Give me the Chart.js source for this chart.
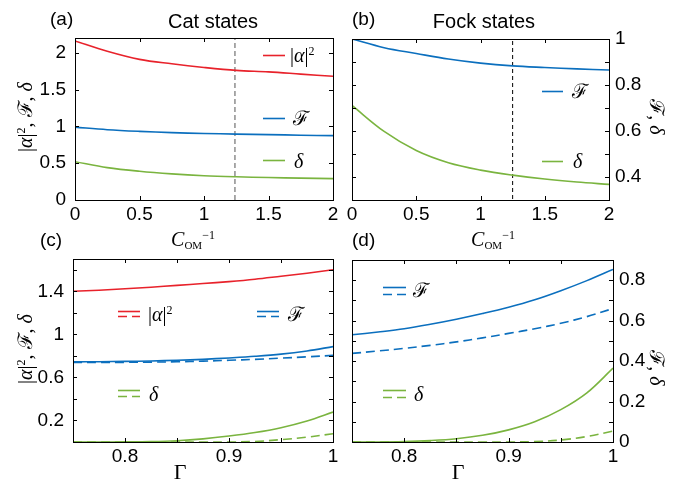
<!DOCTYPE html>
<html>
<head>
<meta charset="utf-8">
<script src="https://cdn.jsdelivr.net/npm/chart.js@4.4.0/dist/chart.umd.min.js"></script>
<style>
body{margin:0;background:#fff;}
#wrap{position:relative;width:681px;height:485px;overflow:hidden;}
canvas{position:absolute;left:0;top:0;}
.t{position:absolute;white-space:nowrap;font-family:"Liberation Sans",Arial,sans-serif;font-size:19px;color:#000;line-height:1;}
.ttl{font-size:20px;}
.m{font-family:"Liberation Serif","DejaVu Serif",serif;font-size:20px;}
.m sup{font-size:12px;vertical-align:0.6em;}
.m sub{font-size:11px;vertical-align:-0.25em;}
.c{transform:translate(-50%,-50%);}
.v{transform:translateY(-50%);}
.rl{transform:translate(-50%,-50%) rotate(-90deg);}
.rr{transform:translate(-50%,-50%) rotate(90deg);}
</style>
</head>
<body>
<div id="wrap">
<canvas id="pa" width="681" height="485"></canvas>
<canvas id="pb" width="681" height="485"></canvas>
<canvas id="pc" width="681" height="485"></canvas>
<canvas id="pd" width="681" height="485"></canvas>

<div class="t" style="left:50px;top:9px;">(a)</div>
<div class="t c ttl" style="left:213px;top:21px;">Cat states</div>
<div class="t" style="left:352px;top:9px;">(b)</div>
<div class="t c ttl" style="left:484px;top:21px;">Fock states</div>
<div class="t" style="left:40px;top:230px;">(c)</div>
<div class="t" style="left:352px;top:230px;">(d)</div>

<div class="t m c" style="left:193px;top:240px;"><i>C</i><sub>OM</sub><sup>−1</sup></div>
<div class="t m c" style="left:493px;top:240px;"><i>C</i><sub>OM</sub><sup>−1</sup></div>
<div class="t m c" style="left:180px;top:472px;font-size:22px;">Γ</div>
<div class="t m c" style="left:458px;top:472px;font-size:22px;">Γ</div>

<div class="t m rl" style="left:25px;top:117px;">|<i>α</i>|<sup>2</sup>, ℱ, <i>δ</i></div>
<div class="t m rl" style="left:25px;top:349px;">|<i>α</i>|<sup>2</sup>, ℱ, <i>δ</i></div>
<div class="t m rr" style="left:657px;top:117px;">ℱ, <i>δ</i></div>
<div class="t m rr" style="left:657px;top:368px;">ℱ, <i>δ</i></div>

<div class="t m v" style="left:290px;top:55px;">|<i>α</i>|<sup>2</sup></div>
<div class="t m v" style="left:293px;top:118px;">ℱ</div>
<div class="t m v" style="left:294px;top:161px;"><i>δ</i></div>
<div class="t m v" style="left:572px;top:91px;">ℱ</div>
<div class="t m v" style="left:573px;top:161px;"><i>δ</i></div>
<div class="t m v" style="left:148px;top:314px;">|<i>α</i>|<sup>2</sup></div>
<div class="t m v" style="left:288px;top:314px;">ℱ</div>
<div class="t m v" style="left:149px;top:394px;"><i>δ</i></div>
<div class="t m v" style="left:413px;top:290px;">ℱ</div>
<div class="t m v" style="left:414px;top:394px;"><i>δ</i></div>
</div>

<script>
// x values: inverse cooperativity, and Gamma
var cInv = [0, 0.25, 0.5, 0.75, 1, 1.25, 1.5, 1.75, 2];
var gamma = [0.75, 0.775, 0.8, 0.825, 0.85, 0.875, 0.9, 0.925, 0.95, 0.975, 1];

// (a) cat states vs C_OM^-1
var catAlpha = [2.16, 2.02, 1.91, 1.85, 1.80, 1.76, 1.74, 1.71, 1.68];
var catF = [0.99, 0.955, 0.932, 0.915, 0.903, 0.895, 0.888, 0.88, 0.874];
var catDelta = [0.52, 0.44, 0.39, 0.355, 0.33, 0.315, 0.305, 0.297, 0.29];
var cutCat = 1.24;

// (b) fock states vs C_OM^-1
var fockF = [1.0, 0.962, 0.937, 0.913, 0.895, 0.883, 0.876, 0.87, 0.865];
var fockDelta = [0.711, 0.598, 0.515, 0.462, 0.43, 0.408, 0.391, 0.378, 0.368];
var cutFock = 1.25;

// (c) cat states vs Gamma (solid / dashed)
var catAlphaG = [1.40, 1.41, 1.423, 1.438, 1.455, 1.472, 1.49, 1.512, 1.54, 1.568, 1.60];
var catFG = [0.744, 0.746, 0.749, 0.753, 0.759, 0.768, 0.781, 0.796, 0.816, 0.846, 0.886];
var catFGd = [0.738, 0.739, 0.74, 0.742, 0.745, 0.751, 0.759, 0.768, 0.779, 0.791, 0.805];
var catDeltaG = [0, 0, 0.001, 0.004, 0.012, 0.029, 0.055, 0.088, 0.133, 0.195, 0.278];
var catDeltaGd = [0, 0, 0, 0, 0, 0, 0, 0.005, 0.022, 0.045, 0.077];

// (d) fock states vs Gamma (solid / dashed)
var fockFG = [0.53, 0.544, 0.56, 0.582, 0.607, 0.635, 0.666, 0.703, 0.748, 0.798, 0.853];
var fockFGd = [0.438, 0.45, 0.463, 0.478, 0.495, 0.515, 0.537, 0.56, 0.587, 0.62, 0.66];
var fockDeltaG = [0, 0, 0.002, 0.007, 0.016, 0.033, 0.06, 0.1, 0.16, 0.243, 0.365];
var fockDeltaGd = [0, 0, 0, 0, 0, 0, 0, 0.002, 0.01, 0.027, 0.054];

var RED = '#E8222B', BLUE = '#0B6FBE', GREEN = '#7AB43F';
var DASH = [9, 5];
var W = 681, H = 485, AXW = 45, AXH = 30;

function pts(xs, ys) {
    return xs.map(function(x, i){ return {x: x, y: ys[i]}; });
}
function line(xs, ys, color, dashed) {
    return {
        data: pts(xs, ys),
        borderColor: color,
        borderWidth: 1.6,
        borderDash: dashed ? DASH : [],
        pointRadius: 0,
        tension: 0.35,
        fill: false
    };
}
function vline(x, top, color, dash) {
    return {
        data: [{x: x, y: 0}, {x: x, y: top}],
        borderColor: color,
        borderWidth: 1,
        borderDash: dash,
        pointRadius: 0,
        fill: false
    };
}
function fmt(v) {
    return String(parseFloat(v.toFixed(2)));
}

// box frame with inward ticks on all four sides
var boxTicks = {
    id: 'boxTicks',
    afterDatasetsDraw: function(chart) {
        var a = chart.chartArea, ctx = chart.ctx;
        var sx = chart.scales.x, sy = chart.scales.y;
        ctx.save();
        ctx.strokeStyle = '#000';
        ctx.lineWidth = 1;
        ctx.setLineDash([]);
        ctx.beginPath();
        sx.ticks.forEach(function(t){
            var p = Math.round(sx.getPixelForValue(t.value)) + 0.5;
            ctx.moveTo(p, a.bottom); ctx.lineTo(p, a.bottom - 4);
            ctx.moveTo(p, a.top); ctx.lineTo(p, a.top + 4);
        });
        sy.ticks.forEach(function(t){
            var p = Math.round(sy.getPixelForValue(t.value)) + 0.5;
            ctx.moveTo(a.left, p); ctx.lineTo(a.left + 4, p);
            ctx.moveTo(a.right, p); ctx.lineTo(a.right - 4, p);
        });
        ctx.stroke();
        ctx.strokeRect(Math.round(a.left) + 0.5, Math.round(a.top) + 0.5,
                       Math.round(a.width), Math.round(a.height));
        ctx.restore();
    }
};

// legend line samples
function samples(list) {
    return {
        id: 'samples',
        afterDraw: function(chart) {
            var ctx = chart.ctx;
            ctx.save();
            ctx.lineWidth = 1.6;
            list.forEach(function(s){
                ctx.strokeStyle = s.color;
                ctx.setLineDash(s.dash ? DASH : []);
                ctx.beginPath();
                ctx.moveTo(s.x1, s.y); ctx.lineTo(s.x2, s.y);
                ctx.stroke();
            });
            ctx.restore();
        }
    };
}

function panel(id, box, xo, yo, datasets, legend) {
    var right = yo.side === 'right';
    var font = {family: '"Liberation Sans", Arial, sans-serif', size: 19};
    return new Chart(document.getElementById(id), {
        type: 'line',
        data: {datasets: datasets},
        options: {
            responsive: false,
            animation: false,
            events: [],
            layout: {padding: {
                left: right ? box.l : box.l - AXW,
                right: right ? W - box.r - AXW : W - box.r,
                top: box.t,
                bottom: H - box.b - AXH
            }},
            plugins: {legend: {display: false}, tooltip: {enabled: false}},
            scales: {
                x: {
                    type: 'linear', min: xo.min, max: xo.max,
                    grid: {display: false, drawTicks: false},
                    border: {display: false},
                    afterFit: function(s){ s.height = AXH; },
                    ticks: {
                        stepSize: xo.step, includeBounds: false, autoSkip: false,
                        maxRotation: 0, padding: 3, color: '#000', font: font,
                        callback: function(v){ return xo.show(v) ? fmt(v) : ''; }
                    }
                },
                y: {
                    type: 'linear', position: yo.side, min: yo.min, max: yo.max,
                    grid: {display: false, drawTicks: false},
                    border: {display: false},
                    afterFit: function(s){ s.width = AXW; },
                    ticks: {
                        stepSize: yo.step, includeBounds: false, autoSkip: false,
                        padding: right ? 6 : 9, color: '#000', font: font,
                        callback: function(v){ return yo.show(v) ? fmt(v) : ''; }
                    }
                }
            }
        },
        plugins: [boxTicks, samples(legend)]
    });
}

function all(){ return true; }
var xC = {min: 0, max: 2, step: 0.5, show: all};
var xG = {min: 0.75, max: 1, step: 0.05, show: function(v){ return Math.round(v * 100) % 10 === 0; }};

panel('pa', {l: 75, r: 333, t: 38, b: 200}, xC,
    {side: 'left', min: 0, max: 2.2, step: 0.5, show: all},
    [line(cInv, catAlpha, RED), line(cInv, catF, BLUE), line(cInv, catDelta, GREEN),
     vline(cutCat, 2.2, '#555', [5, 3])],
    [{x1: 263, x2: 285, y: 55.5, color: RED}, {x1: 263, x2: 285, y: 118.5, color: BLUE},
     {x1: 263, x2: 285, y: 160.5, color: GREEN}]);

panel('pb', {l: 352, r: 609, t: 39, b: 200}, xC,
    {side: 'right', min: 0.3, max: 1, step: 0.1, show: function(v){ return Math.round(v * 10) % 2 === 0; }},
    [line(cInv, fockF, BLUE), line(cInv, fockDelta, GREEN), vline(cutFock, 1, '#000', [4, 3])],
    [{x1: 542, x2: 563, y: 91.5, color: BLUE}, {x1: 542, x2: 563, y: 161.5, color: GREEN}]);

panel('pc', {l: 73, r: 333, t: 259, b: 442}, xG,
    {side: 'left', min: 0, max: 1.7, step: 0.2, show: function(v){ return Math.round(v * 10) % 4 === 2; }},
    [line(gamma, catAlphaG, RED), line(gamma, catFG, BLUE), line(gamma, catFGd, BLUE, true),
     line(gamma, catDeltaG, GREEN), line(gamma, catDeltaGd, GREEN, true)],
    [{x1: 118, x2: 140, y: 311.5, color: RED}, {x1: 118, x2: 140, y: 316.5, color: RED, dash: true},
     {x1: 257, x2: 279, y: 311.5, color: BLUE}, {x1: 257, x2: 279, y: 316.5, color: BLUE, dash: true},
     {x1: 118, x2: 140, y: 390.5, color: GREEN}, {x1: 118, x2: 140, y: 396.5, color: GREEN, dash: true}]);

panel('pd', {l: 352, r: 613, t: 260, b: 442}, xG,
    {side: 'right', min: 0, max: 0.9, step: 0.1, show: function(v){ return Math.round(v * 10) % 2 === 0; }},
    [line(gamma, fockFG, BLUE), line(gamma, fockFGd, BLUE, true),
     line(gamma, fockDeltaG, GREEN), line(gamma, fockDeltaGd, GREEN, true)],
    [{x1: 383, x2: 406, y: 287.5, color: BLUE}, {x1: 383, x2: 406, y: 294.5, color: BLUE, dash: true},
     {x1: 383, x2: 406, y: 390.5, color: GREEN}, {x1: 383, x2: 406, y: 397.5, color: GREEN, dash: true}]);
</script>
</body>
</html>
